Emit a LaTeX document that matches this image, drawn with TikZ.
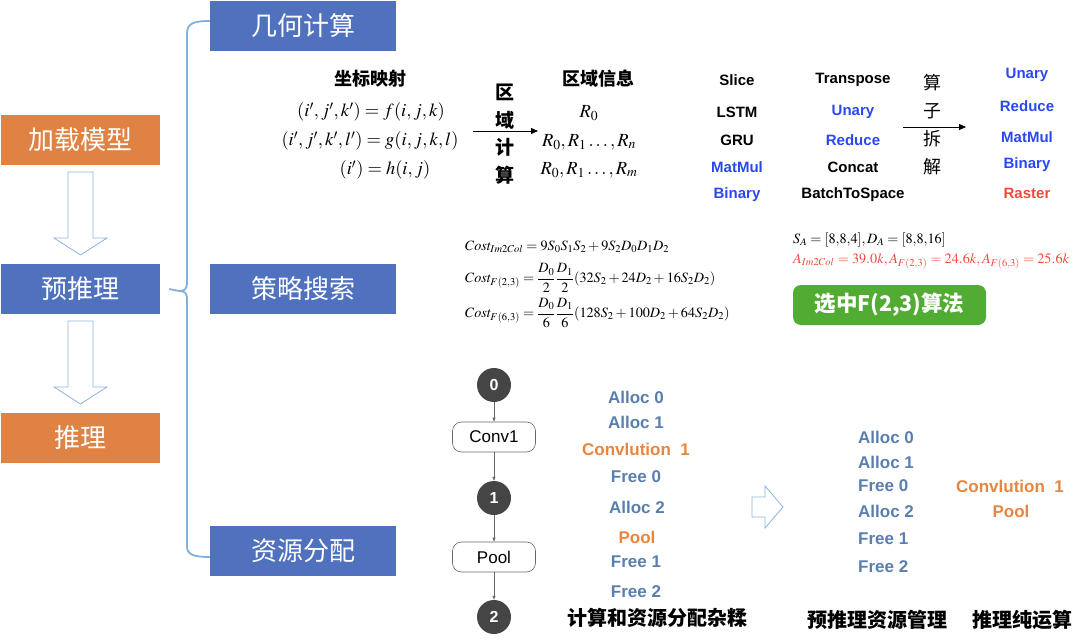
\documentclass[tikz,border=0pt]{standalone}
\usepackage{mathptmx}
\usepackage[no-math]{fontspec}
\setsansfont{Liberation Sans}
\newfontfamily\cjk{Noto Sans CJK SC}
\usetikzlibrary{arrows.meta}
\definecolor{stageblue}{HTML}{5071BE}
\definecolor{stageorange}{HTML}{E08243}
\definecolor{bracecol}{HTML}{80B0DE}
\definecolor{hollowcol}{HTML}{8DB3E2}
\definecolor{opblue}{HTML}{2A48F0}
\definecolor{opred}{HTML}{F04A3A}
\definecolor{memblue}{HTML}{5A7FAF}
\definecolor{runorange}{HTML}{E8863F}
\definecolor{pickgreen}{HTML}{52AC34}
\definecolor{tensorgray}{HTML}{454545}
\tikzset{
  stage/.style={rectangle, minimum width=159pt, minimum height=50pt, inner sep=0pt,
    text=white, font=\cjk\fontsize{26}{26}\selectfont},
  part/.style={stage, minimum width=186pt, fill=stageblue},
  cjktitle/.style={font=\cjk\bfseries\fontsize{18}{18}\selectfont},
  cjkcaption/.style={font=\cjk\bfseries\fontsize{20}{20}\selectfont},
  opname/.style={font=\sffamily\bfseries\fontsize{15}{15}\selectfont, inner sep=0pt},
  memop/.style={font=\sffamily\bfseries\fontsize{17}{17}\selectfont, inner sep=0pt, text=memblue},
  runop/.style={memop, text=runorange},
  tensor/.style={circle, fill=tensorgray, minimum size=34pt, inner sep=0pt,
    text=white, font=\sffamily\bfseries\fontsize{16}{16}\selectfont},
  layer/.style={rectangle, rounded corners=9pt, draw=black!60, fill=white, line width=0.6pt,
    minimum width=83pt, minimum height=30pt, inner sep=0pt, font=\sffamily\fontsize{17}{17}\selectfont},
  flow/.style={draw=black!60, line width=0.6pt, -{Triangle[length=4pt,width=3pt]}},
  hollow/.style={draw=hollowcol, line width=0.8pt, fill=white, line join=miter},
  bigmath/.style={font=\fontsize{18.5}{18.5}\selectfont, inner sep=0pt},
  costmath/.style={font=\fontsize{14.2}{14.2}\selectfont, inner sep=0pt, anchor=west}
}
\begin{document}
\begin{tikzpicture}[x=1pt, y=-1pt]
\useasboundingbox (0,0) rectangle (1080,642);
% left: the three stages
\node[stage, fill=stageorange] (load) at (80.5,140) {加载模型};
\node[stage, fill=stageblue] (pre) at (80.5,289) {预推理};
\node[stage, fill=stageorange] (infer) at (80.5,438) {推理};
\draw[hollow] (68,172) -- (93,172) -- (93,238) -- (107,238) -- (80.5,255) -- (54,238) -- (68,238) -- cycle;
\draw[hollow] (68,321) -- (93,321) -- (93,387) -- (107,387) -- (80.5,404) -- (54,387) -- (68,387) -- cycle;
% the three parts of pre-inference
\node[part] (geo) at (303,26) {几何计算};
\node[part] (strat) at (303,289) {策略搜索};
\node[part] (res) at (303,551) {资源分配};
\draw[bracecol, line width=1.8pt] ([yshift=5pt]geo.west) .. controls (192,21) and (187,24) .. (187,34)
  -- (187,282) .. controls (187,289) and (185,291) .. (179,291) -- ([xshift=9pt]pre.east);
\draw[bracecol, line width=1.8pt] (179,291) .. controls (185,291) and (187,293) .. (187,300)
  -- (187,546) .. controls (187,554) and (192,557) .. ([yshift=-6pt]res.west);
% geometry computing
\node[cjktitle] (maptitle) at (370,79) {坐标映射};
\node[bigmath] (mapf) at (371,112) {$(i',j',k')=f(i,j,k)$};
\node[bigmath] (mapg) at (370,141) {$(i',j',k',l')=g(i,j,k,l)$};
\node[bigmath] (maph) at (385,170) {$(i')=h(i,j)$};
\coordinate (rcfrom) at (473,131);
\coordinate (rcto) at (538,131);
\draw[line width=1pt, -{Triangle[length=7pt,width=6pt]}] (rcfrom) -- (rcto);
\node[font=\cjk\bfseries\fontsize{19}{27.5}\selectfont, align=center, inner sep=0pt] (rcword) at (505,134) {区\\域\\计\\算};
\node[cjktitle] (regtitle) at (598,79) {区域信息};
\node[bigmath] (reg0) at (589,113) {$R_0$};
\node[bigmath] (regn) at (589,142) {$R_0,R_1\ldots,R_n$};
\node[bigmath] (regm) at (589,170) {$R_0,R_1\ldots,R_m$};
% operator split
\node[opname] (opslice) at (737,80) {Slice};
\node[opname] (oplstm) at (737,112) {LSTM};
\node[opname] (opgru) at (737,140) {GRU};
\node[opname, text=opblue] (opmatmul) at (737,167) {MatMul};
\node[opname, text=opblue] (opbinary) at (737,195) {Binary};
\node[opname] (optrans) at (853,80) {Transpose};
\node[opname, text=opblue] (opunary) at (853,112) {Unary};
\node[opname, text=opblue] (opreduce) at (853,140) {Reduce};
\node[opname] (opconcat) at (853,167) {Concat};
\node[opname] (opbts) at (853,195) {BatchToSpace};
\coordinate (osfrom) at (903,127);
\coordinate (osto) at (966,127);
\draw[line width=1pt, -{Triangle[length=7pt,width=6pt]}] (osfrom) -- (osto);
\node[font=\cjk\fontsize{18}{28}\selectfont, align=center, inner sep=0pt] (osword) at (932,125) {算\\子\\拆\\解};
\node[opname, text=opblue] (baseunary) at (1027,75) {Unary};
\node[opname, text=opblue] (basereduce) at (1027,106) {Reduce};
\node[opname, text=opblue] (basematmul) at (1027,137) {MatMul};
\node[opname, text=opblue] (basebinary) at (1027,165) {Binary};
\node[opname, text=opred] (baseraster) at (1027,193) {Raster};
% strategy search
\node[costmath] (costim) at (465,247) {$Cost_{Im2Col}=9S_0S_1S_2+9S_2D_0D_1D_2$};
\node[costmath] (costf23) at (465,278) {$\displaystyle Cost_{F(2,3)}=\frac{D_0}{2}\frac{D_1}{2}(32S_2+24D_2+16S_2D_2)$};
\node[costmath] (costf63) at (465,313) {$\displaystyle Cost_{F(6,3)}=\frac{D_0}{6}\frac{D_1}{6}(128S_2+100D_2+64S_2D_2)$};
\node[costmath] (shape) at (793,240) {$S_A=[8{,}8{,}4], D_A=[8{,}8{,}16]$};
\node[costmath, text=opred] (area) at (793,261) {$A_{Im2Col}=39.0k, A_{F(2,3)}=24.6k, A_{F(6,3)}=25.6k$};
\node[rectangle, rounded corners=8pt, fill=pickgreen, minimum width=193pt, minimum height=40pt,
  text=white, font=\cjk\bfseries\fontsize{21.5}{21.5}\selectfont] (pick) at (889.5,305) {选中F(2,3)算法};
% resource allocation
\node[tensor] (t0) at (494,385) {0};
\node[layer] (conv) at (494,437) {Conv1};
\node[tensor] (t1) at (494,498) {1};
\node[layer] (pool) at (494,557) {Pool};
\node[tensor] (t2) at (494,617) {2};
\draw[flow] (t0) -- (conv);
\draw[flow] (conv) -- (t1);
\draw[flow] (t1) -- (pool);
\draw[flow] (pool) -- (t2);
\node[memop] (mixa0) at (636,397) {Alloc 0};
\node[memop] (mixa1) at (636,422) {Alloc 1};
\node[runop] (mixconv) at (636,449) {Convlution\ \ 1};
\node[memop] (mixf0) at (636,477) {Free 0};
\node[memop] (mixa2) at (637,507) {Alloc 2};
\node[runop] (mixpool) at (637,537) {Pool};
\node[memop] (mixf1) at (636,562) {Free 1};
\node[memop] (mixf2) at (636,592) {Free 2};
\node[cjkcaption] (mixcap) at (657,618) {计算和资源分配杂糅};
\draw[hollow] (752,497) -- (765,497) -- (765,486) -- (783,507) -- (765,528) -- (765,517) -- (752,517) -- cycle;
\node[memop, anchor=west] (prea0) at (858,437) {Alloc 0};
\node[memop, anchor=west] (prea1) at (858,462) {Alloc 1};
\node[memop, anchor=west] (pref0) at (858,486) {Free 0};
\node[memop, anchor=west] (prea2) at (858,511) {Alloc 2};
\node[memop, anchor=west] (pref1) at (858,539) {Free 1};
\node[memop, anchor=west] (pref2) at (858,567) {Free 2};
\node[runop] (runconv) at (1010,486) {Convlution\ \ 1};
\node[runop] (runpool) at (1011,511) {Pool};
\node[cjkcaption] (precap) at (877,620) {预推理资源管理};
\node[cjkcaption] (runcap) at (1022,620) {推理纯运算};
\end{tikzpicture}
\end{document}
